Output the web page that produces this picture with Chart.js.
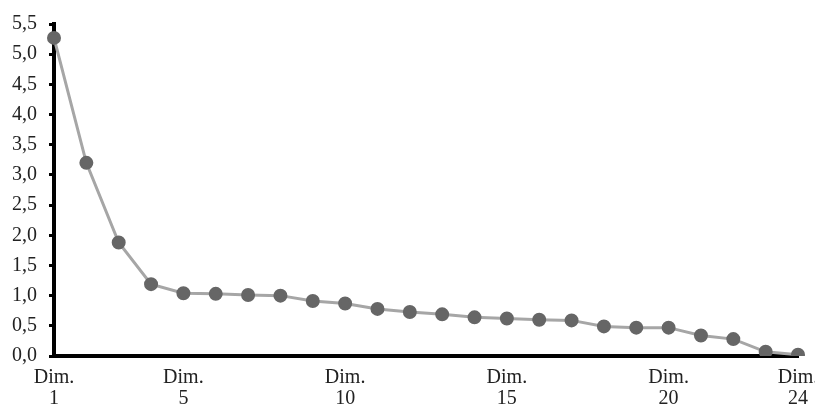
<!DOCTYPE html>
<html>
<head>
<meta charset="utf-8">
<script src="https://cdn.jsdelivr.net/npm/chart.js@4"></script>
<style>
  html, body { margin: 0; padding: 0; background: #fff; overflow: hidden; }
  .wrap { position: relative; width: 830px; height: 418px; }
</style>
</head>
<body>
<div class="wrap"><canvas id="scree"></canvas></div>
<script>
const dims = ["1","2","3","4","5","6","7","8","9","10","11","12","13","14","15","16","17","18","19","20","21","22","23","24"];
const shownDims = ["1","5","10","15","20","24"];
const eigen = [5.27, 3.20, 1.88, 1.19, 1.04, 1.03, 1.01, 1.00, 0.91, 0.87, 0.78, 0.73,
               0.69, 0.64, 0.62, 0.60, 0.59, 0.49, 0.47, 0.47, 0.34, 0.28, 0.07, 0.02];

const serif = "'Liberation Serif', 'Times New Roman', serif";

new Chart(document.getElementById("scree"), {
    type: 'line',
    data: {
        labels: dims,
        datasets: [{
            data: eigen,
            borderColor: '#a6a6a6',
            borderWidth: 3,
            pointBackgroundColor: '#666666',
            pointBorderColor: '#666666',
            pointRadius: 5.5,
            tension: 0
        }]
    },
    options: {
        responsive: true,
        maintainAspectRatio: false,
        animation: false,
        layout: { padding: { top: 16, left: 4, right: 32, bottom: 0 } },
        plugins: { legend: { display: false }, tooltip: { enabled: false } },
        scales: {
            x: {
                offset: false,
                grid: { display: false },
                border: { color: '#000', width: 4 },
                afterFit: s => { s.height = 62; },
                ticks: {
                    autoSkip: false,
                    maxRotation: 0,
                    color: '#222',
                    padding: 3,
                    font: { family: serif, size: 20, lineHeight: 1.05 },
                    callback: function (v, i) {
                        const d = dims[i];
                        return shownDims.includes(d) ? ["Dim.", d] : "";
                    }
                }
            },
            y: {
                min: 0,
                max: 5.5,
                grid: { drawOnChartArea: false, color: '#000', lineWidth: 3, tickLength: 5 },
                border: { color: '#000', width: 4 },
                afterFit: s => { s.width = 50; },
                ticks: {
                    stepSize: 0.5,
                    color: '#222',
                    padding: 12,
                    font: { family: serif, size: 20 },
                    callback: v => v.toFixed(1).replace('.', ',')
                }
            }
        }
    }
});
</script>
</body>
</html>
